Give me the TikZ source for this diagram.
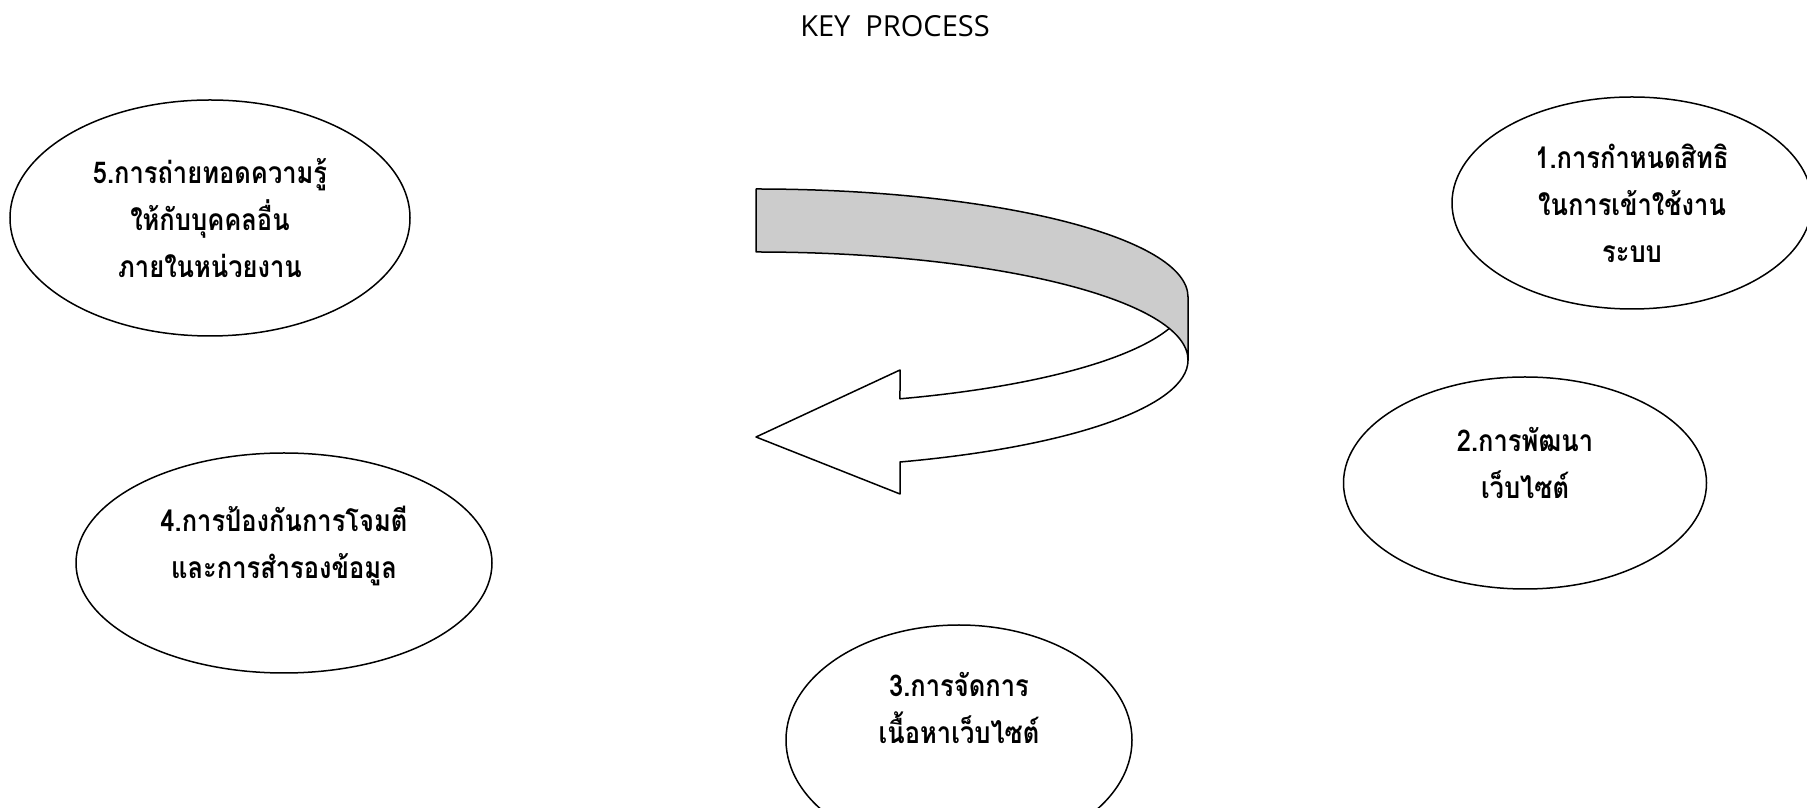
\documentclass[tikz,border=0pt]{standalone}
\usepackage{fontspec}
\newfontfamily\thaifont[Script=Thai,FakeStretch=0.85]{Loma}
\newfontfamily\titlefont{Open Sans}
\usetikzlibrary{shapes.geometric}
\definecolor{ribbongray}{HTML}{CCCCCC}

\begin{document}
\begin{tikzpicture}[x=1pt,y=1pt,
  process/.style={ellipse,draw,line width=1.5pt,inner sep=0pt,align=center,
    font=\thaifont\bfseries\fontsize{30}{47}\selectfont},
  ribbon/.style={draw,line width=1.5pt,line join=round}]
\useasboundingbox (0,0) rectangle (1807,808);
\node (title) at (895,782) {\titlefont\fontsize{29}{35}\selectfont KEY\ \ PROCESS};

\node[process,minimum width=360pt,minimum height=212pt] (p1) at (1632,605) {1.การกำหนดสิทธิ\\ในการเข้าใช้งาน\\ระบบ};
\node[process,minimum width=363pt,minimum height=212pt,text depth=40pt] (p2) at (1525,325) {2.การพัฒนา\\เว็บไซต์};
\node[process,minimum width=346pt,minimum height=230pt,text depth=64pt] (p3) at (959,68) {3.การจัดการ\\เนื้อหาเว็บไซต์};
\node[process,minimum width=416pt,minimum height=220pt,text depth=42pt] (p4) at (284,245) {4.การป้องกันการโจมตี\\และการสำรองข้อมูล};
\node[process,minimum width=400pt,minimum height=236pt] (p5) at (210,590) {5.การถ่ายทอดความรู้\\ให้กับบุคคลอื่น\\ภายในหน่วยงาน};

% front of the ribbon
\draw[ribbon,fill=white] (1188,511) arc[start angle=0,end angle=-70.53,x radius=432,y radius=108]
  -- (900,438) -- (756,371) -- (900,314) -- (900,346)
  arc[start angle=-70.53,end angle=0,x radius=432,y radius=108] -- cycle;
% back of the ribbon
\draw[ribbon,fill=ribbongray] (756,619) arc[start angle=90,end angle=0,x radius=432,y radius=108]
  -- (1188,448) arc[start angle=0,end angle=90,x radius=432,y radius=108] -- cycle;
\end{tikzpicture}
\end{document}
